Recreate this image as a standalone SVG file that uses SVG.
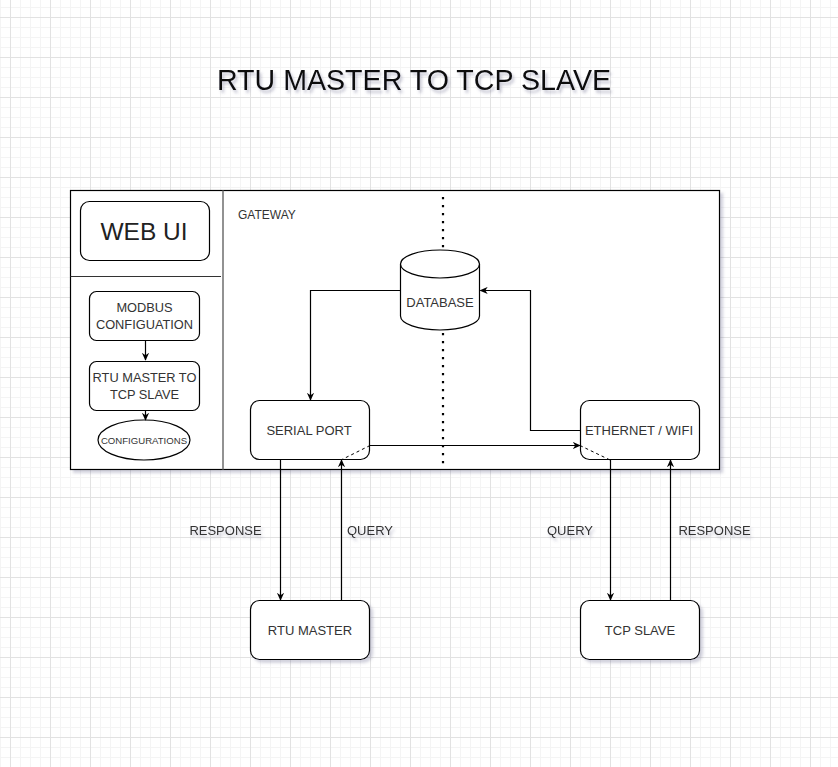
<svg xmlns="http://www.w3.org/2000/svg" width="838" height="767" viewBox="0 0 838 767">
<defs>
<pattern id="grid" width="40" height="40" patternUnits="userSpaceOnUse" x="10" y="17">
<path d="M10.5 0V40M20.5 0V40M30.5 0V40M0 10.5H40M0 20.5H40M0 30.5H40" stroke="#f4f4f4" stroke-width="1" fill="none"/>
<path d="M0.5 0V40M0 0.5H40" stroke="#e2e2e2" stroke-width="1" fill="none"/>
</pattern>
<filter id="sh" x="-10%" y="-10%" width="130%" height="130%">
<feDropShadow dx="3" dy="3" stdDeviation="1.6" flood-color="#6a6a90" flood-opacity="0.3"/>
</filter>
<filter id="tsh" x="-10%" y="-30%" width="130%" height="180%">
<feDropShadow dx="2" dy="3" stdDeviation="1.5" flood-color="#5a5a80" flood-opacity="0.35"/>
</filter>
<marker id="arr" viewBox="0 0 10 10" refX="9" refY="5" markerWidth="8" markerHeight="8" markerUnits="userSpaceOnUse" orient="auto">
<path d="M0 0.5L10 5L0 9.5L3 5Z" fill="#000"/>
</marker>
<style>
.box{fill:#fff;stroke:#000;stroke-width:1.2}
.ln{fill:none;stroke:#000;stroke-width:1.2}
.dash{fill:none;stroke:#000;stroke-width:1;stroke-dasharray:3 3}
.t{font-family:"Liberation Sans",Arial,sans-serif;fill:#333;text-anchor:middle}
.n{font-size:13px}
</style>
</defs>
<rect x="0" y="0" width="838" height="767" fill="#fff"/>
<rect x="0" y="0" width="838" height="767" fill="url(#grid)"/>

<text class="t" x="414" y="90" font-size="28.6" style="fill:#111" filter="url(#tsh)">RTU MASTER TO TCP SLAVE</text>

<g id="gateway-container">
<rect x="70.5" y="190.5" width="649" height="279" fill="#fff" stroke="#000" stroke-width="1.2" filter="url(#sh)"/>
<line x1="223" y1="190.5" x2="223" y2="469.5" stroke="#777" stroke-width="1.6"/>
<line x1="70.5" y1="276.5" x2="221" y2="276.5" stroke="#333" stroke-width="1"/>
<text class="t" x="238" y="219" font-size="12" style="text-anchor:start">GATEWAY</text>
<line x1="443" y1="197" x2="443" y2="470" stroke="#000" stroke-width="2.2" stroke-dasharray="2.2 5.8"/>
</g>

<g id="web-ui">
<rect class="box" x="80.5" y="201.5" width="129" height="59" rx="9"/>
<text class="t" x="144" y="240" font-size="24.5" style="fill:#222">WEB UI</text>
</g>
<g id="modbus-config">
<rect class="box" x="89.5" y="291.5" width="110" height="49" rx="7"/>
<text class="t" x="144.5" y="312" font-size="12.8">MODBUS</text>
<text class="t" x="144.5" y="329" font-size="12.8">CONFIGUATION</text>
</g>
<g id="rtu-to-tcp-config">
<rect class="box" x="89.5" y="361.5" width="110" height="49" rx="7"/>
<text class="t" x="144.5" y="382" font-size="12.8">RTU MASTER TO</text>
<text class="t" x="144.5" y="399" font-size="12.8">TCP SLAVE</text>
</g>
<g id="configurations">
<ellipse cx="144" cy="440" rx="46" ry="20" fill="#fff" stroke="#000" stroke-width="1.2"/>
<text class="t" x="144" y="444" font-size="9.6">CONFIGURATIONS</text>
</g>

<g id="database">
<path d="M400.5 264V316A39.5 14 0 0 0 479.5 316V264" fill="#fff" stroke="#000" stroke-width="1.2"/>
<ellipse cx="440" cy="264" rx="39.5" ry="14" fill="#fff" stroke="#000" stroke-width="1.2"/>
<text class="t n" x="440" y="307">DATABASE</text>
</g>

<g id="serial-port">
<rect class="box" x="250.5" y="400.5" width="119" height="59" rx="9"/>
<text class="t n" x="309" y="435">SERIAL PORT</text>
</g>
<g id="ethernet-wifi">
<rect class="box" x="580.5" y="400.5" width="119" height="59" rx="9"/>
<text class="t n" x="639" y="435">ETHERNET / WIFI</text>
</g>
<g id="rtu-master">
<rect class="box" x="250.5" y="600.5" width="119" height="59" rx="9" filter="url(#sh)"/>
<text class="t n" x="310" y="635">RTU MASTER</text>
</g>
<g id="tcp-slave">
<rect class="box" x="580.5" y="600.5" width="119" height="59" rx="9" filter="url(#sh)"/>
<text class="t n" x="640" y="635">TCP SLAVE</text>
</g>

<g id="connectors">
<path class="ln" d="M145.5 340.5V360" marker-end="url(#arr)"/>
<path class="ln" d="M145.5 410.5V420" marker-end="url(#arr)"/>
<path class="ln" d="M400 290.5H310.5V400" marker-end="url(#arr)"/>
<path class="ln" d="M580 430.5H530.5V290.5H480.5" marker-end="url(#arr)"/>
<path class="ln" d="M370 445.5H580" marker-end="url(#arr)"/>
<path class="dash" d="M370 445.5L341 460"/>
<path class="dash" d="M580 445.5L610 460"/>
<path class="ln" d="M280.5 460V600" marker-end="url(#arr)"/>
<path class="ln" d="M341.5 600V460" marker-end="url(#arr)"/>
<path class="ln" d="M610.5 460V600" marker-end="url(#arr)"/>
<path class="ln" d="M670.5 600V460" marker-end="url(#arr)"/>
<g filter="url(#tsh)">
<text class="t n" x="225.5" y="535">RESPONSE</text>
<text class="t n" x="370" y="535">QUERY</text>
<text class="t n" x="570" y="535">QUERY</text>
<text class="t n" x="714.5" y="535">RESPONSE</text>
</g>
</g>
</svg>
